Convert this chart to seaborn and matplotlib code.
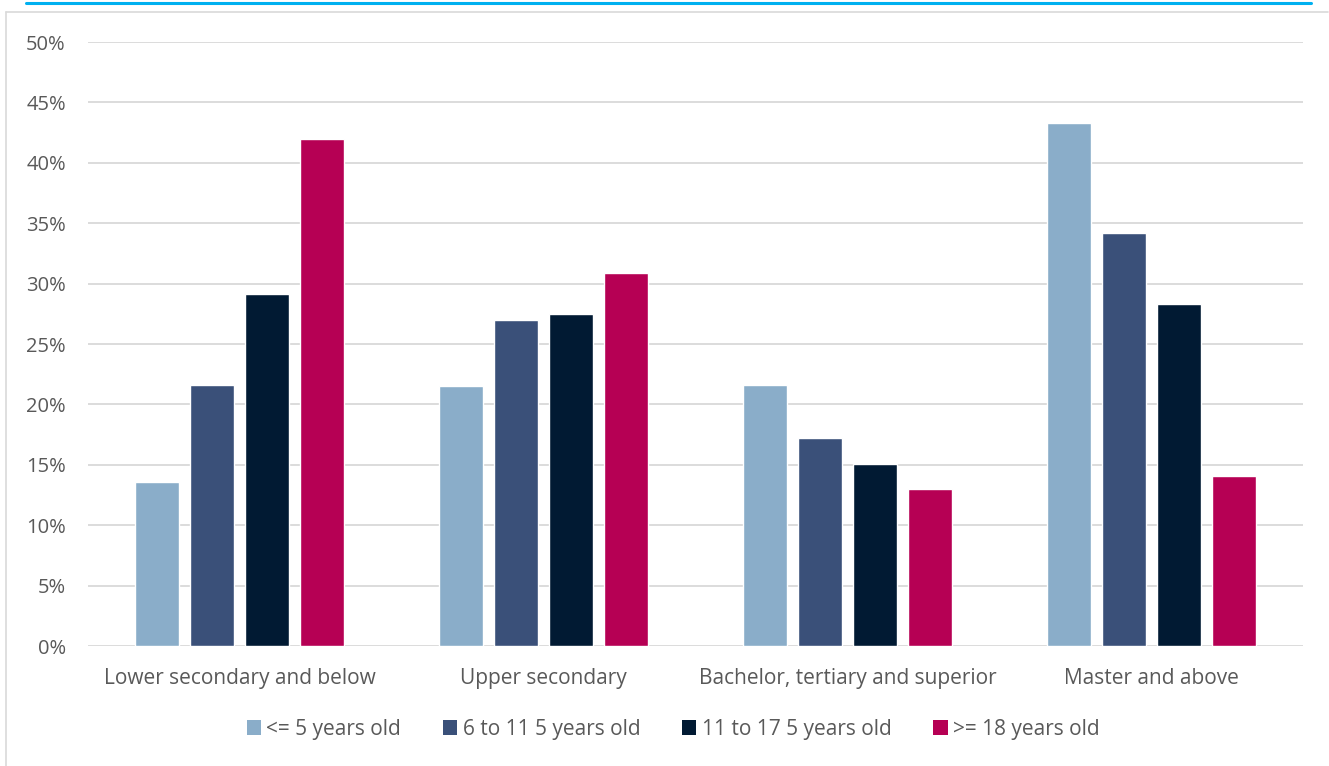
import matplotlib
matplotlib.use("Agg")
import matplotlib.pyplot as plt
from matplotlib.patches import Patch
from matplotlib.lines import Line2D
import seaborn as sns
import pandas as pd

categories = ["Lower secondary and below", "Upper secondary",
              "Bachelor, tertiary and superior", "Master and above"]
series = ["<= 5 years old", "6 to 11 5 years old", "11 to 17 5 years old", ">= 18 years old"]
le5 = [13.6, 21.5, 21.6, 43.3]
y6_11 = [21.6, 27.0, 17.2, 34.2]
y11_17 = [29.1, 27.5, 15.1, 28.3]
ge18 = [42.0, 30.9, 13.0, 14.1]
yticks = [0, 5, 10, 15, 20, 25, 30, 35, 40, 45, 50]
colors = ["#8AADC9", "#3A5079", "#011A33", "#B60054"]

values = [le5, y6_11, y11_17, ge18]
df = pd.DataFrame({
    "category": [c for s in series for c in categories],
    "group": [s for s in series for _ in categories],
    "value": [v for vals in values for v in vals],
})

sns.set_theme(style="white")
plt.rcParams["font.family"] = ["Open Sans", "DejaVu Sans"]
text_color = "#595959"
grid_color = "#D9D9D9"

W, H = 1329, 766
fig = plt.figure(figsize=(W / 100, H / 100), dpi=100)
ax = fig.add_axes([88 / W, (H - 646) / H, 1215 / W, 604 / H])

sns.barplot(data=df, x="category", y="value", hue="group", order=categories,
            hue_order=series, palette=colors, width=0.724, gap=0.2,
            saturation=1, ax=ax, legend=False)

ax.set_ylim(0, 50)
ax.set_xlim(-0.5, 3.5)
ax.set_yticks(yticks)
ax.set_yticklabels([f"{t}%" for t in yticks])
ax.yaxis.grid(True, color=grid_color, linewidth=1.3)
ax.set_axisbelow(True)
for sp in ax.spines.values():
    sp.set_visible(False)
ax.set_xlabel("")
ax.set_ylabel("")
ax.tick_params(axis="y", length=0, pad=16, labelsize=14.5, labelcolor=text_color)
ax.tick_params(axis="x", length=0, pad=16, labelsize=15, labelcolor=text_color)

handles = [Patch(facecolor=c, edgecolor="none") for c in colors]
fig.legend(handles, series, loc="center", bbox_to_anchor=(673 / W, 1 - 729 / H),
           ncol=4, frameon=False, fontsize=15, labelcolor=text_color,
           handlelength=0.7, handleheight=0.7, handletextpad=0.25,
           columnspacing=2.0)

# chart frame and accent line
fig.add_artist(Line2D([6 / W, 6 / W], [0, 1 - 12 / H], color=grid_color,
                      linewidth=1.2, transform=fig.transFigure))
fig.add_artist(Line2D([6 / W, 1328 / W], [1 - 12 / H, 1 - 12 / H], color=grid_color,
                      linewidth=1.2, transform=fig.transFigure))
fig.add_artist(Line2D([26 / W, 1311 / W], [1 - 3 / H, 1 - 3 / H], color="#00B0F0",
                      linewidth=2.2, transform=fig.transFigure))

fig.savefig("out.png", dpi=100)
